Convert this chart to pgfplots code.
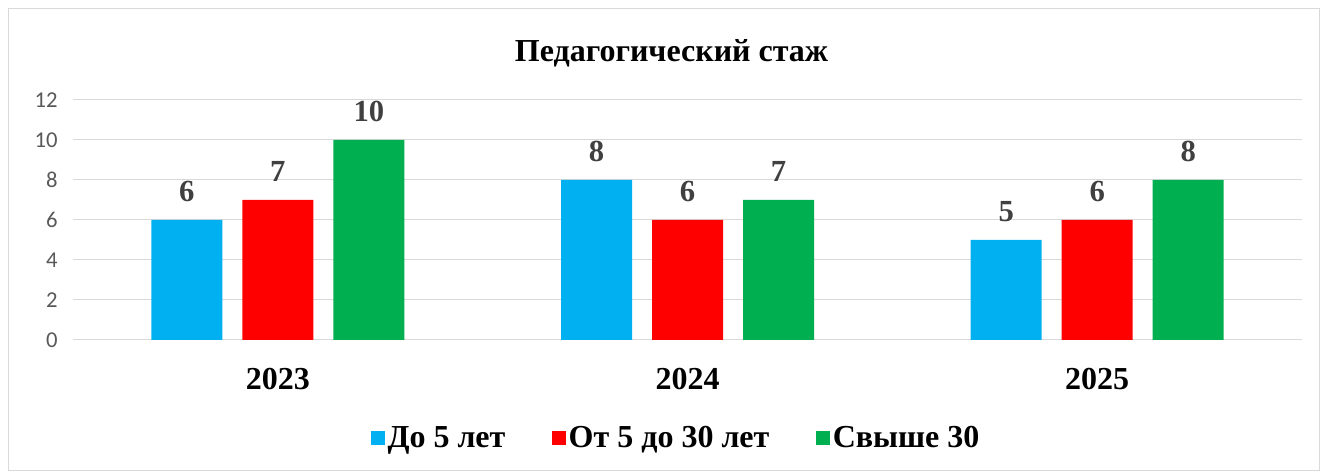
\documentclass[border=0pt]{standalone}
\usepackage{pgfplots}
\pgfplotsset{compat=1.18}
\usepackage{fontspec}
\setmainfont{Liberation Serif}
\newfontfamily\carlito{Carlito}
\definecolor{cblue}{HTML}{00B0F0}
\definecolor{cred}{HTML}{FF0000}
\definecolor{cgreen}{HTML}{00B050}
\definecolor{gridgray}{HTML}{D9D9D9}
\definecolor{ticktext}{HTML}{595959}
\definecolor{labgray}{HTML}{404040}
\begin{document}
\begin{tikzpicture}
\useasboundingbox (-54.75pt,-99.75pt) rectangle (936pt,255pt);
\draw[gridgray, line width=0.75pt] (-48pt,-98.25pt) rectangle (934.5pt,248.25pt);
\begin{axis}[
  scale only axis, width=921.75pt, height=180pt,
  xmin=-0.5, xmax=2.5, ymin=0, ymax=12,
  ybar=15pt, bar width=53.25pt,
  xtick={0,1,2}, xticklabels={2023,2024,2025},
  ytick={0,2,...,12},
  ymajorgrids, major grid style={color=gridgray, line width=0.75pt},
  axis line style={draw=none},
  major tick length=0pt,
  /pgf/number format/assume math mode=true,
  yticklabel style={font=\carlito\fontsize{17}{17}\selectfont, text=ticktext, xshift=-8pt},
  xticklabel style={font=\bfseries\fontsize{24}{24}\selectfont, text=black, yshift=-18pt},
  nodes near coords,
  nodes near coords style={font=\bfseries\fontsize{23}{23}\selectfont, text=labgray, yshift=10pt},
  title={Педагогический стаж},
  title style={font=\bfseries\fontsize{24}{24}\selectfont, at={(0.487,1)}, anchor=center, yshift=29pt},
  legend style={at={(0.491,-0.408)}, anchor=center, draw=none, legend columns=-1,
    font=\bfseries\fontsize{24}{24}\selectfont,
    /tikz/every even column/.append style={column sep=33pt},
    nodes={inner sep=2pt}},
  legend image code/.code={\fill[#1, draw=none] (-3pt,-5pt) rectangle (7.5pt,5.5pt);},
  clip=false,
]
\addplot[fill=cblue, draw=none] coordinates {(0,6) (1,8) (2,5)};
\addplot[fill=cred, draw=none] coordinates {(0,7) (1,6) (2,6)};
\addplot[fill=cgreen, draw=none] coordinates {(0,10) (1,7) (2,8)};
\legend{До 5 лет, От 5 до 30 лет, Свыше 30}
\end{axis}
\end{tikzpicture}
\end{document}
